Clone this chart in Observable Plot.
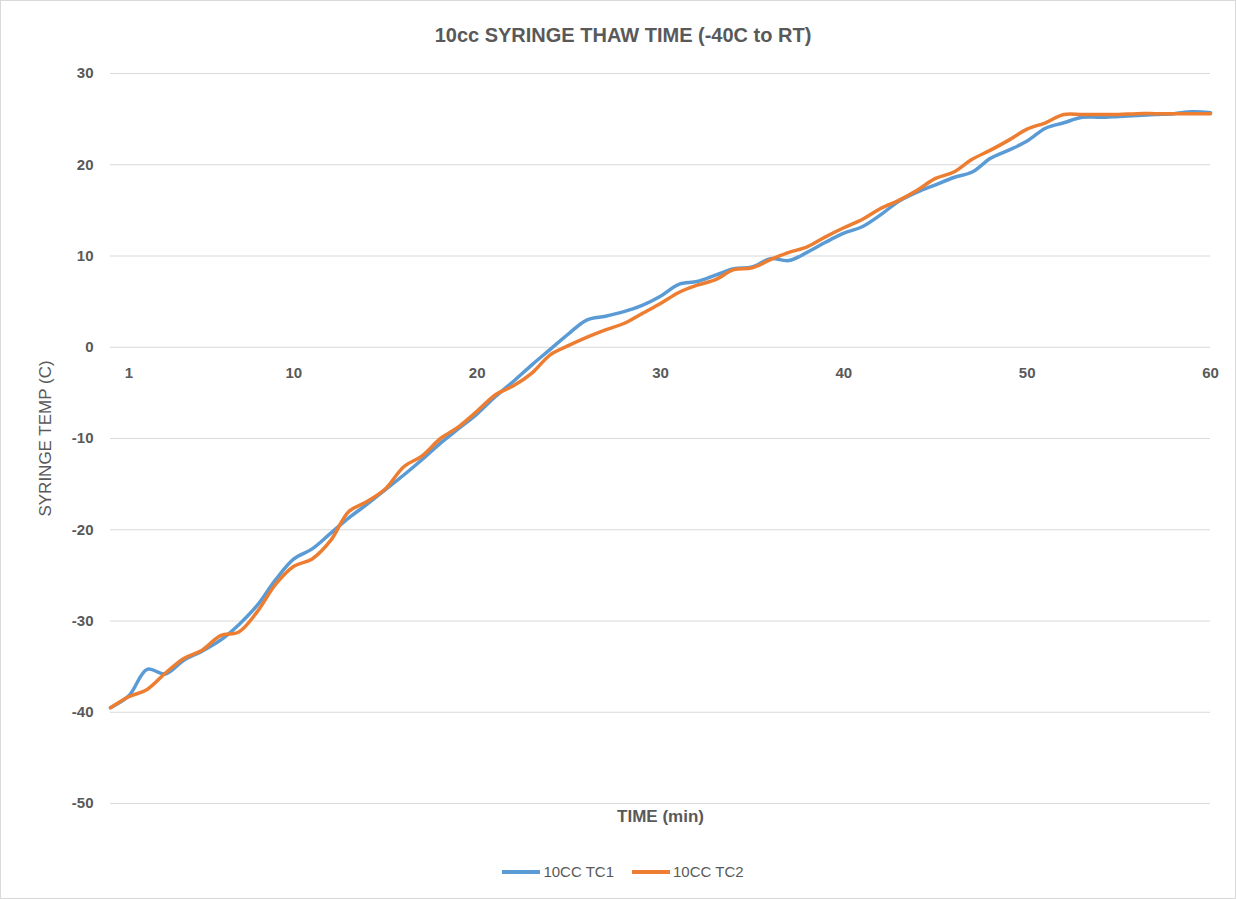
<!DOCTYPE html>
<html>
<head>
<meta charset="utf-8">
<script src="https://cdn.jsdelivr.net/npm/d3@7"></script>
<script src="https://cdn.jsdelivr.net/npm/@observablehq/plot@0.6"></script>
<style>
  html, body { margin: 0; padding: 0; background: #fff; }
  #wrap { position: relative; width: 1234px; height: 897px; border: 1px solid #d9d9d9; background: #fff; font-family: "Liberation Sans", "Open Sans", sans-serif; }
  #title { height: 54px; text-align: center; font-size: 20px; font-weight: bold; color: #595959; position: relative; }
  #title span { position: absolute; left: 0; right: 0; top: 23px; padding-left: 10px; }
  #legend { position: absolute; top: 862px; left: 0; width: 1234px; padding-left: 10px; box-sizing: border-box; display: flex; justify-content: center; gap: 18px; font-size: 15px; color: #595959; }
  .item { display: flex; align-items: center; }
  .swatch { width: 38px; height: 4px; margin-right: 3px; }
  svg { display: block; }
</style>
</head>
<body>
<div id="wrap">
  <div id="title"><span>10cc SYRINGE THAW TIME (-40C to RT)</span></div>
  <div id="chart"></div>
  <div id="legend"></div>
</div>
<script>
const minutes = d3.range(0, 61);
const tc1 = [-39.5, -38.2, -35.3, -35.8, -34.3, -33.3, -32.1, -30.4, -28.3, -25.5,
  -23.2, -22.1, -20.4, -18.7, -17.2, -15.6, -14.0, -12.3, -10.5, -8.9,
  -7.3, -5.4, -3.7, -1.9, -0.2, 1.5, 3.0, 3.4, 3.9, 4.6,
  5.6, 6.9, 7.2, 7.9, 8.6, 8.8, 9.7, 9.5, 10.4, 11.5,
  12.5, 13.2, 14.5, 16.0, 17.0, 17.8, 18.6, 19.2, 20.7, 21.6,
  22.6, 24.0, 24.6, 25.2, 25.2, 25.3, 25.4, 25.5, 25.6, 25.8, 25.7];
const tc2 = [-39.5, -38.3, -37.5, -35.7, -34.1, -33.2, -31.6, -31.2, -29.0, -26.0,
  -24.0, -23.2, -21.2, -18.0, -16.9, -15.5, -13.1, -11.9, -10.0, -8.7,
  -7.0, -5.2, -4.2, -2.8, -0.8, 0.2, 1.1, 1.9, 2.6, 3.7,
  4.8, 6.0, 6.8, 7.4, 8.5, 8.7, 9.6, 10.4, 11.0, 12.1,
  13.1, 14.0, 15.2, 16.1, 17.2, 18.5, 19.2, 20.6, 21.6, 22.7,
  23.9, 24.6, 25.5, 25.5, 25.5, 25.5, 25.6, 25.6, 25.6, 25.6, 25.6];
const seriesNames = ["10CC TC1", "10CC TC2"];
const seriesColors = ["#5B9BD5", "#ED7D31"];
const xTicks = [1, 10, 20, 30, 40, 50, 60];
const yTicks = [-50, -40, -30, -20, -10, 0, 10, 20, 30];

const rows = [];
[tc1, tc2].forEach((vals, i) => vals.forEach((v, j) => rows.push({series: seriesNames[i], t: minutes[j], v})));

const chart = Plot.plot({
  width: 1234,
  height: 785,
  marginLeft: 109,
  marginRight: 25,
  marginTop: 18,
  marginBottom: 37,
  style: { fontFamily: "Liberation Sans, Open Sans, sans-serif", background: "#fff" },
  x: { domain: [0, 60], axis: null },
  y: { domain: [-50, 30], axis: null },
  color: { domain: seriesNames, range: seriesColors },
  marks: [
    Plot.gridY(yTicks, { stroke: "#d9d9d9", strokeOpacity: 1, strokeWidth: 1 }),
    Plot.text(yTicks, { x: 0, y: d => d, text: d => String(d), textAnchor: "end", dx: -17, fontSize: 15, fontWeight: "bold", fill: "#595959" }),
    Plot.text(xTicks, { x: d => d, y: 0, text: d => String(d), dy: 26, fontSize: 15, fontWeight: "bold", fill: "#595959" }),
    Plot.text(["SYRINGE TEMP (C)"], { frameAnchor: "left", textAnchor: "middle", rotate: -90, dx: -65, fontSize: 17, fill: "#595959" }),
    Plot.text(["TIME (min)"], { frameAnchor: "bottom", dy: 18, fontSize: 17, fontWeight: "bold", fill: "#595959" }),
    Plot.line(rows, { x: "t", y: "v", z: "series", stroke: "series", strokeWidth: 3.5, curve: "catmull-rom" })
  ]
});
document.getElementById("chart").appendChild(chart);

const legend = document.getElementById("legend");
seriesNames.forEach((name, i) => {
  const item = document.createElement("div");
  item.className = "item";
  const sw = document.createElement("div");
  sw.className = "swatch";
  sw.style.background = seriesColors[i];
  const label = document.createElement("span");
  label.textContent = name;
  item.appendChild(sw);
  item.appendChild(label);
  legend.appendChild(item);
});
</script>
</body>
</html>
